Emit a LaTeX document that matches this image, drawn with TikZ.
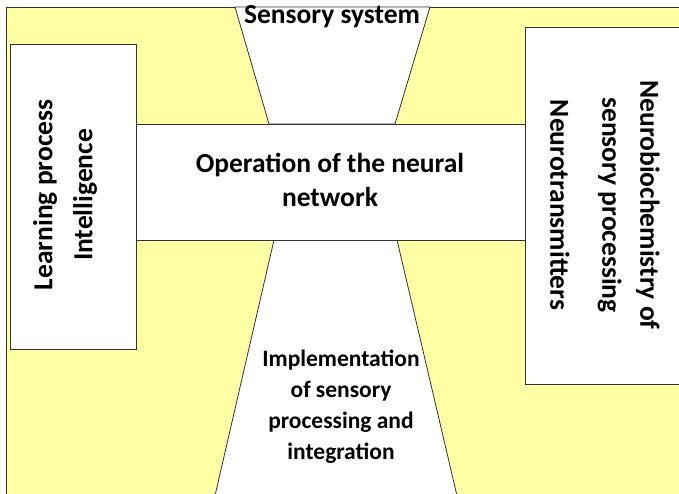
\documentclass[tikz,border=0pt]{standalone}
\usepackage{fontspec}
\setmainfont{Carlito}
\usetikzlibrary{positioning,calc}
\definecolor{bgyellow}{RGB}{255,255,166}

\begin{document}
\begin{tikzpicture}[
        x=1pt, y=-1pt,
        frame/.style={draw=black!80, line width=0.8pt},
        panel/.style={frame, fill=white},
        txt/.style={font=\bfseries\fontsize{27.5}{34}\selectfont, align=center, text=black},
    ]
    \useasboundingbox (0,0) rectangle (679,494);
    % background
    \fill[bgyellow] (6,7) rectangle (679,494);
    \draw[frame] (6,500) -- (6,7) -- (685,7);
    % side boxes
    \draw[panel] (10,44) rectangle (136,349);
    \draw[panel] (525,27) rectangle (690,384);
    % funnel shapes
    \draw[panel] (235,7) -- (430,7) -- (395,124) -- (269,124) -- cycle;
    \draw[panel] (274,240) -- (397,240) -- (458,500) -- (214,500) -- cycle;
    \draw[panel] (136,124) rectangle (525,240);

    \node[txt] (sensory) at (332,17) {Sensory system};
    \node[txt] (operation) at (330,180)
        {Operation of the neural\\network};
    \node[txt, font=\bfseries\fontsize{23.5}{31}\selectfont] (implement) at (341,407)
        {Implementation\\of sensory\\processing and\\integration};
    \node[txt, rotate=90, font=\bfseries\fontsize{27.5}{40}\selectfont] (learning) at (65,195)
        {Learning process\\Intelligence};
    \node[txt, rotate=-90, font=\bfseries\fontsize{27.5}{38}\selectfont] (neuro) at (605,205)
        {Neurobiochemistry of\\sensory processing\\[14pt]Neurotransmitters};
\end{tikzpicture}
\end{document}
